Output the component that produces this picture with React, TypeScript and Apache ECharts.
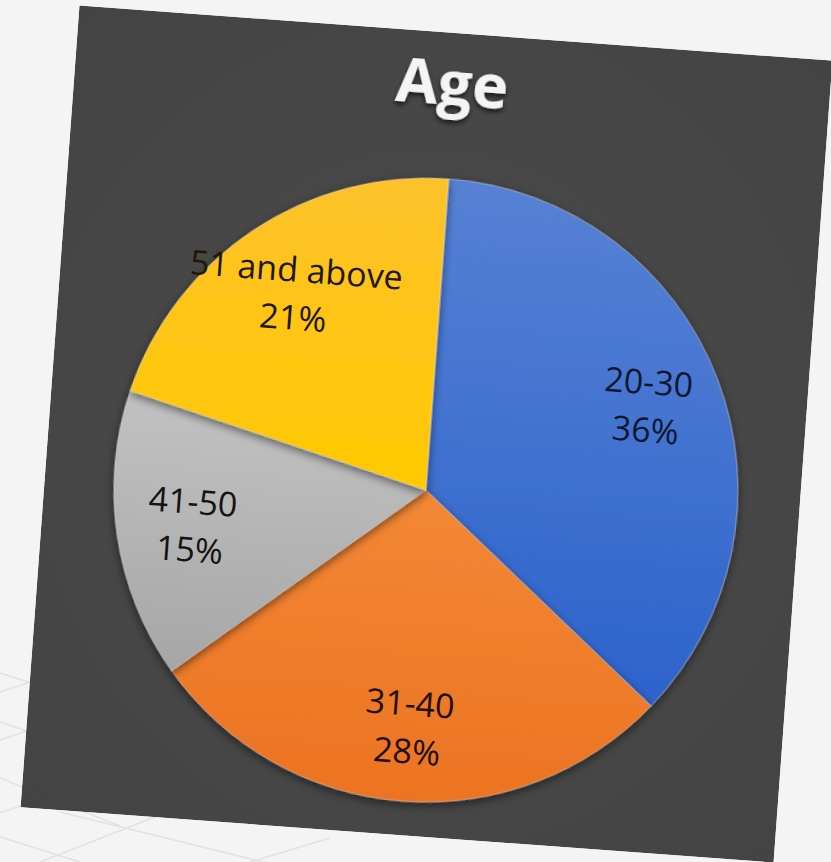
import React, { useEffect, useRef } from "react";
import * as echarts from "echarts";

const titleText = "Age";
const categories = ["20-30", "31-40", "41-50", "51 and above"];
const shares = [36, 28, 15, 21];

const sliceTop = ["#5681d4", "#f38835", "#c2c2c2", "#fdc12c"];
const sliceBottom = ["#2d63cc", "#ec7322", "#a6a6a6", "#ffc900"];
const labelColors = ["#101830", "#200f04", "#141414", "#201704"];

// faint floor lines behind the photographed panel
const floorLines: number[][] = [
  [0, 673, 140, 718],
  [0, 722, 140, 770],
  [0, 778, 120, 826],
  [0, 837, 80, 862],
  [60, 812, 280, 866],
  [0, 692, 90, 662],
  [0, 740, 90, 709],
  [0, 813, 90, 782],
  [40, 862, 160, 815],
  [250, 862, 330, 838],
];

export default function App() {
  const bgRef = useRef<HTMLDivElement>(null);
  const chartRef = useRef<HTMLDivElement>(null);

  useEffect(() => {
    const bg = echarts.init(bgRef.current!, undefined, { renderer: "svg" });
    bg.setOption({
      animation: false,
      backgroundColor: "#f4f4f4",
      graphic: floorLines.map((l) => ({
        type: "line",
        shape: { x1: l[0], y1: l[1], x2: l[2], y2: l[3] },
        style: { stroke: "#e2e2e2", lineWidth: 1.6 },
        silent: true,
      })),
    });

    const chart = echarts.init(chartRef.current!, undefined, { renderer: "svg" });
    const cx = 381;
    const cy = 458;
    const r = 312;
    const pieData = categories.map((name, i) => ({
      name,
      value: shares[i],
      itemStyle: {
        color: new echarts.graphic.LinearGradient(0, 0, 0, 1, [
          { offset: 0, color: sliceTop[i] },
          { offset: 1, color: sliceBottom[i] },
        ]),
      },
    }));
    const labelData = categories.map((name, i) => ({
      name,
      value: shares[i],
      label: { color: labelColors[i] },
    }));
    chart.setOption({
      animation: false,
      backgroundColor: new echarts.graphic.RadialGradient(0.5, 0.5, 0.75, [
        { offset: 0, color: "#4b4b4b" },
        { offset: 1, color: "#434343" },
      ]),
      title: {
        text: titleText,
        left: "center",
        top: 12,
        textStyle: {
          color: "#f4f4f4",
          fontFamily: "Open Sans",
          fontWeight: "bold",
          fontSize: 61,
          lineHeight: 62,
          textShadowColor: "rgba(0,0,0,0.7)",
          textShadowBlur: 5,
          textShadowOffsetY: 3,
        },
      },
      series: [
        {
          type: "pie",
          center: [cx, cy],
          radius: [0, r],
          startAngle: 90,
          clockwise: true,
          silent: true,
          label: { show: false },
          labelLine: { show: false },
          itemStyle: {
            borderColor: "rgba(255,255,255,0.35)",
            borderWidth: 1,
            shadowBlur: 10,
            shadowOffsetY: 3,
            shadowColor: "rgba(0,0,0,0.55)",
          },
          data: pieData,
        },
        {
          type: "pie",
          center: [cx, cy],
          radius: [r / 2, r],
          startAngle: 90,
          clockwise: true,
          silent: true,
          itemStyle: { color: "rgba(0,0,0,0)" },
          labelLine: { show: false },
          label: {
            show: true,
            position: "inside",
            rotate: 0,
            fontFamily: "Open Sans",
            fontSize: 34,
            lineHeight: 48,
            formatter: (p: any) => `${p.name}\n${Math.round(p.percent)}%`,
          },
          data: labelData,
        },
      ],
    });

    return () => {
      bg.dispose();
      chart.dispose();
    };
  }, []);

  return (
    <div
      style={{
        position: "fixed",
        left: 0,
        top: 0,
        width: 831,
        height: 862,
        overflow: "hidden",
        background: "#f4f4f4",
      }}
    >
      <div ref={bgRef} style={{ position: "absolute", left: 0, top: 0, width: 831, height: 862 }} />
      <div
        ref={chartRef}
        style={{
          position: "absolute",
          left: 49,
          top: 32,
          width: 755,
          height: 804,
          transform: "rotate(4.2deg)",
        }}
      />
    </div>
  );
}
